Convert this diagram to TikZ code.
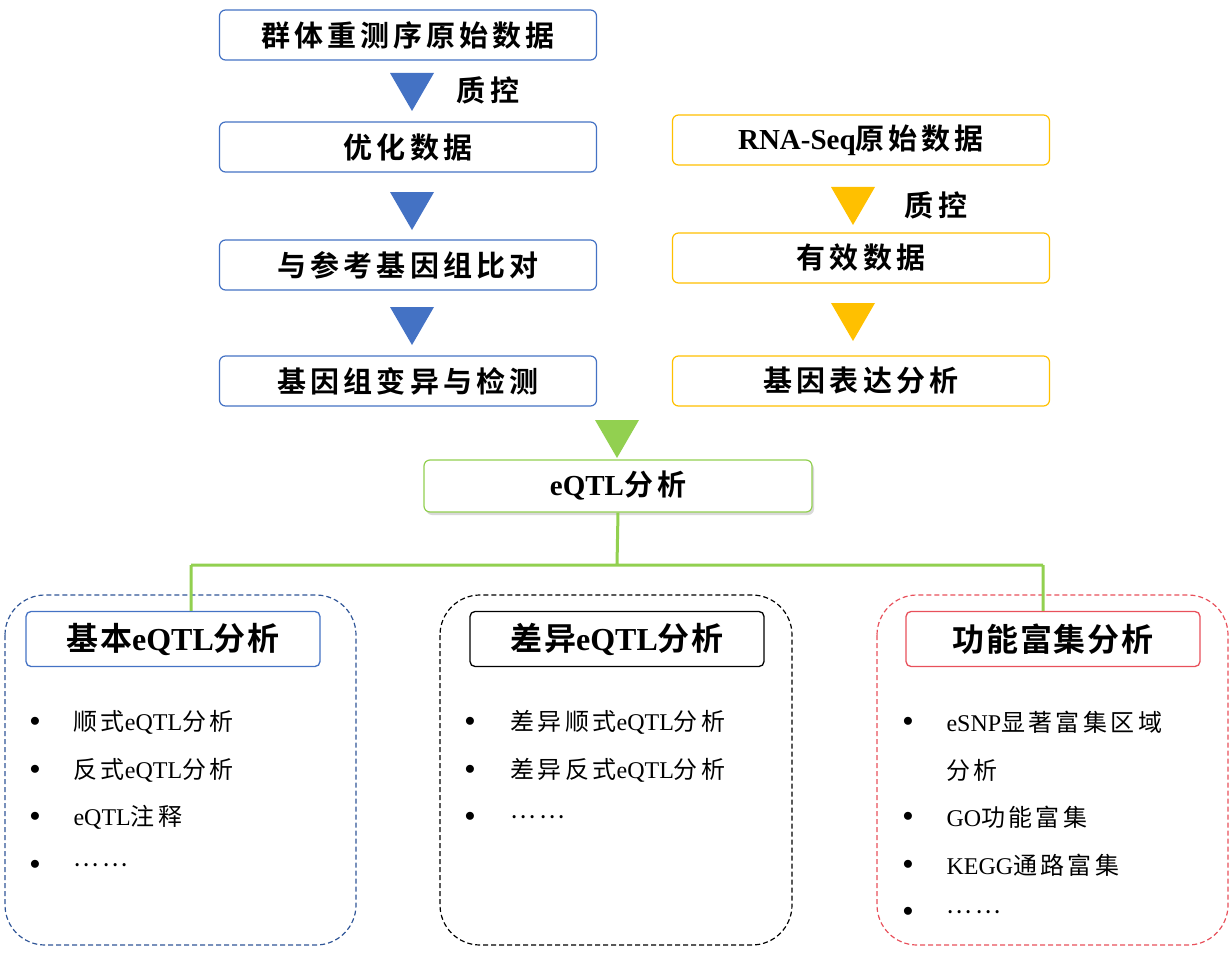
\documentclass[tikz,border=0pt]{standalone}
\usepackage{fontspec}
\setmainfont{Liberation Serif}
\newfontfamily\cjk[LetterSpace=14]{Noto Sans CJK SC}
\newfontfamily\cjkb[LetterSpace=14]{Noto Sans CJK SC Bold}
\newfontfamily\cjkh[LetterSpace=6]{Noto Sans CJK SC Bold}
\newcommand{\lat}[1]{{\rmfamily\bfseries #1}}
\newcommand{\latn}[1]{{\rmfamily #1}}
\usetikzlibrary{shadows}
\definecolor{bl}{HTML}{4472C4}
\definecolor{og}{HTML}{FFC000}
\definecolor{gr}{HTML}{92D050}
\definecolor{dbl}{HTML}{2F5597}
\definecolor{rd}{HTML}{E8505B}
\tikzset{
 box/.style={draw=#1,line width=1.2pt,rounded corners=6pt,fill=white,minimum width=377pt,minimum height=50pt,font=\fontsize{29}{30}\selectfont\cjkb},
 hdr/.style={draw=#1,line width=1.3pt,rounded corners=5pt,fill=white,minimum width=294pt,minimum height=55pt,font=\fontsize{32}{34}\selectfont\cjkh},
 cont/.style={draw=#1,line width=1.2pt,dash pattern=on 5pt off 3pt,rounded corners=40pt},
 itm/.style={anchor=west,font=\fontsize{24}{26}\selectfont\cjk},
 bul/.style={font=\fontsize{20}{24}\selectfont},
 qk/.style={font=\fontsize{29}{30}\selectfont\cjkb}
}
\newcommand{\dtri}[3]{\fill[#3] (#1-22,#2) -- (#1+22,#2) -- (#1,#2+38) -- cycle;}
\begin{document}
\begin{tikzpicture}[x=1pt,y=-1pt]
\useasboundingbox (0,0) rectangle (1232,955);
\node[box=bl] (a1) at (408,35) {群体重测序原始数据};
\node[box=bl] (a2) at (408,147) {优化数据};
\node[box=bl] (a3) at (408,265) {与参考基因组比对};
\node[box=bl] (a4) at (408,381) {基因组变异与检测};
\dtri{412}{73}{bl}\dtri{412}{192}{bl}\dtri{412}{307}{bl}
\node[qk] (q1) at (488,90) {质控};
\node[box=og] (b1) at (861,140) {\lat{RNA-Seq}原始数据};
\node[box=og] (b2) at (861,258) {有效数据};
\node[box=og] (b3) at (861,381) {基因表达分析};
\dtri{853}{187}{og}\dtri{853}{303}{og}
\node[qk] (q2) at (936,205) {质控};
\dtri{617}{420}{gr}
\node[box=gr,minimum width=388pt,minimum height=52pt,drop shadow={opacity=0.3,shadow xshift=2pt,shadow yshift=-3pt}] (e) at (618,486) {\lat{eQTL}分析};
\draw[cont=dbl] (5,595) rectangle (356,945);
\draw[cont=black] (440,595) rectangle (792,945);
\draw[cont=rd] (877,595) rectangle (1228,945);
\coordinate (j) at (617,565);
\coordinate (jl) at (191,565);
\coordinate (jr) at (1043,565);
\node[hdr=bl] (h1) at (173,639) {基本\lat{eQTL}分析};
\node[hdr=black] (h2) at (617,639) {差异\lat{eQTL}分析};
\node[hdr=rd] (h3) at (1053,639) {功能富集分析};
\draw[gr,line width=3pt] (e.south) -- (j) (jl) -- (jr) (jl) -- (jl|-h1.north) (jr) -- (jr|-h3.north);
\foreach \y/\t [count=\i] in {722/顺式\latn{eQTL}分析,770/反式\latn{eQTL}分析,817/\latn{eQTL}注释,865/……}{
 \node[bul] (l\i) at (35,\y) {$\bullet$};
 \node[itm] (lt\i) at (70,\y) {\t};}
\foreach \y/\t [count=\i] in {722/差异顺式\latn{eQTL}分析,770/差异反式\latn{eQTL}分析,817/……}{
 \node[bul] (m\i) at (470,\y) {$\bullet$};
 \node[itm] (mt\i) at (507,\y) {\t};}
\foreach \y/\t [count=\i] in {722/\latn{eSNP}显著富集区域,770/分析,817/\latn{GO}功能富集,865/\latn{KEGG}通路富集,912/……}{
 \node[itm] (rt\i) at (943,\y) {\t};}
\foreach \y [count=\i] in {722,817,865,912}{\node[bul] (r\i) at (908,\y) {$\bullet$};}
\end{tikzpicture}
\end{document}
